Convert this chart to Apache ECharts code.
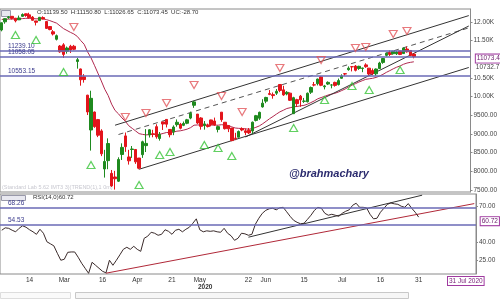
<!DOCTYPE html>
<html><head><meta charset="utf-8">
<script src="https://cdn.jsdelivr.net/npm/echarts@6/dist/echarts.min.js"></script>
<style>html,body{margin:0;padding:0;background:#fff}#c{width:500px;height:300px}</style>
</head><body><div id="c"></div>
<script>
const dates = ['02-04','02-05','02-06','02-07','02-10','02-11','02-12','02-13','02-14','02-17','02-18','02-19','02-20','02-24','02-25','02-26','02-27','02-28',
'03-02','03-03','03-04','03-05','03-06','03-09','03-11','03-12','03-13','03-16','03-17','03-18','03-19','03-20','03-23','03-24','03-25','03-26','03-27','03-30','03-31',
'04-01','04-03','04-07','04-08','04-09','04-13','04-15','04-16','04-17','04-20','04-21','04-22','04-23','04-24','04-27','04-28','04-29','04-30',
'05-04','05-05','05-06','05-07','05-08','05-11','05-12','05-13','05-14','05-15','05-18','05-19','05-20','05-21','05-22','05-26','05-27','05-28','05-29',
'06-01','06-02','06-03','06-04','06-05','06-08','06-09','06-10','06-11','06-12','06-15','06-16','06-17','06-18','06-19','06-22','06-23','06-24','06-25','06-26','06-29','06-30',
'07-01','07-02','07-03','07-06','07-07','07-08','07-09','07-10','07-13','07-14','07-15','07-16','07-17','07-20','07-21','07-22','07-23','07-24','07-27','07-28','07-29','07-30','07-31'];
const futureSlots = ['f1','f2','f3','f4','f5','f6','f7','f8','f9','f10','f11','f12','f13','f14','f15','f16'];

const opens = [11786,12005,12120,12152,12102,12058,12151,12219,12191,12131,12029,12037,12119,12012,11878,11738,11537,11355,
11388,11217,11350,11350,10942,10742,10531,10040,9107,9588,9385,9082,8063,8286,7945,7848,7735,8451,8949,8385,8584,
8585,8356,8446,8688,8974,9004,9196,8880,9323,9390,9122,9057,9251,9261,9232,9287,9426,9769,
9533,9429,9226,9234,9376,9348,9123,9585,9314,9224,9158,8891,8914,9142,9084,9100,9082,9364,9422,
9726,9880,10082,10054,10093,10326,10182,10073,10094,9544,9919,10014,9876,9863,10119,10318,10347,10529,10265,10337,10311,10382,
10324,10493,10615,10724,10803,10818,10755,10756,10851,10764,10701,10612,10752,10918,11106,11174,11150,11149,11225,11154,11276,11237,11139.5];
const highs = [11986,12098,12160,12160,12103,12172,12231,12225,12247,12160,12030,12134,12152,12012,11883,11783,11664,11384,
11433,11342,11388,11386,11036,10752,10604,10049,10159,9602,9403,9127,8575,8883,8036,8013,8376,8749,9039,8576,8678,
8588,8356,8820,9131,9128,9112,9261,9053,9323,9390,9123,9231,9390,9297,9334,9404,9599,9889,
9533,9450,9346,9277,9383,9439,9224,9585,9314,9238,9158,9031,9094,9178,9149,9160,9334,9511,9599,
9931,9996,10177,10112,10203,10328,10291,10148,10112,9996,9943,10046,9966,10111,10272,10393,10484,10554,10315,10409,10337,10401,
10485,10599,10631,10811,10814,10847,10827,10773,10894,10769,10755,10755,10934,11037,11179,11240,11226,11225,11226,11313,11342,11245,11150.8];
const lows = [11750,11953,12084,12066,11990,12055,12145,12139,12091,12037,11908,12037,12071,11813,11779,11639,11506,11175,
11036,11152,11171,11244,10750,10294,10375,9508,8555,9166,8916,8407,7832,8056,7583,7511,7714,8304,8522,8180,8360,
8199,8055,8360,8517,8905,8912,8874,8822,9108,9175,8910,8968,9196,9124,9210,9262,9395,9700,
9266,9116,9116,9175,9204,9219,9043,9325,9120,9051,8807,8834,8909,9074,8969,8996,9004,9336,9377,
9706,9824,10040,9945,10046,10120,10022,10036,9885,9544,9726,9728,9833,9845,10072,10277,10301,10281,10194,10311,10223,10268,
10299,10485,10562,10695,10676,10676,10718,10656,10773,10555,10577,10562,10749,10880,11075,11089,11125,11116,11113,11151,11180,11084,11026.65];
const closes = [11979,12089,12137,12098,12031,12108,12201,12174,12113,12046,11993,12126,12080,11829,11797,11678,11633,11202,
11132,11303,11251,11270,10989,10451,10458,9590,9955,9197,8967,8469,8263,8745,7610,7801,8318,8641,8660,8281,8598,
8253,8084,8792,8748,9112,8994,8925,8992,9267,9262,8981,9187,9314,9154,9282,9380,9553,9860,
9294,9205,9270,9199,9251,9240,9197,9383,9142,9137,8823,8879,9067,9106,9039,9029,9315,9490,9580,
9826,9979,10061,10029,10142,10167,10047,10116,9902,9972,9813,9914,9881,10091,10244,10311,10471,10305,10288,10383,10312,10302,
10430,10552,10607,10763,10799,10706,10813,10768,10802,10607,10618,10740,10901,11022,11162,11132,11215,11194,11131,11300,11202,11102,11073.45];

const maRed = [12070,12072,12078,12080,12075,12078,12090,12098,12099,12094,12084,12088,12087,12063,12037,12003,11968,11895,
11822,11773,11723,11680,11614,11503,11404,11200,11040,10840,10630,10420,10200,10030,9800,9630,9540,9430,9340,9220,9150,
9080,9010,8990,8975,8985,8990,8985,8990,9015,9040,9035,9050,9075,9085,9105,9130,9170,9235,
9242,9239,9242,9238,9239,9239,9235,9249,9239,9229,9190,9160,9151,9147,9137,9127,9145,9178,9216,
9274,9341,9410,9469,9533,9593,9636,9682,9703,9729,9737,9754,9766,9797,9840,9885,9941,9976,10006,10042,10068,10090,
10122,10163,10205,10258,10310,10348,10392,10428,10464,10478,10491,10515,10552,10597,10651,10697,10746,10789,10822,10868,10900,10919,10934];

const rsi = [49.8,51.8,51.4,49.8,48.5,51.4,53.5,52.3,50.2,48.5,46.4,50.6,47.3,40.2,38.5,36.8,30.6,24.8,
25.6,31.4,31.7,31.7,27.3,22.3,18.1,13.9,23.1,20.6,18.1,15.6,14.3,24.8,20.6,24.8,29.3,33.9,35.6,33.9,36.4,
33.9,32.2,43.1,44.8,48.1,47.3,45.6,46.4,50.2,48.9,46.4,49.8,50.6,48.5,50.6,52.3,55.6,59.3,
50.2,48.5,49.3,48.9,49.3,48.5,48.1,51.4,47.3,45.2,41.4,43.1,47.3,46.8,45.6,46.4,54.8,59.8,63.9,
66.4,67.7,68.1,66.8,68.5,68.9,65.2,61.4,58.1,56.4,55.2,55.6,58.9,62.3,66.4,68.9,68.1,63.9,62.3,63.1,62.3,61.4,
63.9,65.6,66.8,70.6,72.3,68.9,68.9,68.5,63.1,59.3,59.8,64.8,68.1,71.4,72.5,71.8,71.4,69.8,68.9,72.0,68.1,64.8,60.72];

const priceLevels = [11239.10, 11058.05, 10553.15];
const rsiLevels = [68.26, 54.53];
const priceTicks = [7500,8000,8500,9000,9500,10000,10500,11500,12000];
const rsiTicks = [25,40,70];
const tickLabels = {'02-14':'14','03-02':'Mar','03-18':'16','04-01':'Apr','04-21':'21','05-04':'May','05-22':'22','06-01':'Jun','06-16':'15','07-01':'Jul','07-16':'16','07-31':'31'};

const upFractals = [['02-10',11652],['02-18',11518],['03-02',10660],['03-13',8168],['04-03',7632],['04-16',8436],['04-21',8516],['05-06',8704],['05-12',8623],['05-18',8409],['06-12',9159],['06-25',9910],['07-07',10285],['07-14',10178],['07-27',10714]];
const downFractals = [['03-05',11866],['03-27',9454],['04-08',9561],['04-20',9829],['04-30',10312],['05-13',10017],['05-21',9588],['06-08',10767],['06-24',10982],['07-08',11303],['07-13',11330],['07-23',11678],['07-29',11759]];

// trend lines: [category index, value]
const channelUpper = [[33,9235],[136,12171]];
const channelMid = [[34,8986],[136,11842]];
const channelLower = [[40,8055],[136,10781]];
const supportSteep = [[71,8919],[136,11893]];
const rsiTrendRed = [[30,14],[136,72]];
const rsiTrendBlack = [[71,44],[121,79]];

const lastClose = 11073.4, lastRsi = 60.72, otherLast = 10732.7;
const header = {O:'11139.50',H:'11150.80',L:'11026.65',C:'11073.45',UC:'-28.70'};

const cats = dates.concat(futureSlots);
const candles = dates.map((d,i)=>[opens[i],closes[i],lows[i],highs[i]]);
const lastDate = dates[dates.length-1];

const fmtPrice = v => v >= 10000 ? (v/1000).toFixed(2)+'K' : v.toFixed(2);
const axisFont = {fontSize:6.5, color:'#444', fontFamily:'Liberation Sans'};

function trendSeries(data, grid, color, dashed){
  return {type:'line', xAxisIndex:grid, yAxisIndex:grid, data:data, symbol:'none', silent:true,
    lineStyle:{color:color, width:1, type: dashed ? [5,4] : 'solid'}, z:3};
}

const chart = echarts.init(document.getElementById('c'), null, {renderer:'canvas'});
chart.setOption({
  animation:false,
  grid:[{left:0,right:24,top:9,height:183,show:true,borderColor:'#8a8a8a',borderWidth:1},
        {left:0,right:24,top:194,height:80,show:true,borderColor:'#8a8a8a',borderWidth:1}],
  xAxis:[
    {type:'category',gridIndex:0,data:cats,axisLine:{show:false},axisTick:{show:false},axisLabel:{show:false},splitLine:{show:false}},
    {type:'category',gridIndex:1,data:cats,axisLine:{show:false},axisTick:{show:false},splitLine:{show:false},
     axisLabel:{show:true,interval:(idx,val)=>tickLabels.hasOwnProperty(val),formatter:v=>tickLabels[v]||'',fontSize:6.5,color:'#333',margin:3,fontFamily:'Liberation Sans'}}
  ],
  yAxis:[
    {type:'value',gridIndex:0,position:'right',min:7446,max:12348,scale:true,
     axisLine:{show:true,lineStyle:{color:'#8a8a8a'}},axisTick:{show:true,length:2,customValues:priceTicks,lineStyle:{color:'#8a8a8a'}},
     axisLabel:Object.assign({customValues:priceTicks,formatter:fmtPrice,margin:3},axisFont),splitLine:{show:false}},
    {type:'value',gridIndex:1,position:'right',min:13.33,max:80,
     axisLine:{show:true,lineStyle:{color:'#8a8a8a'}},axisTick:{show:true,length:2,customValues:rsiTicks,lineStyle:{color:'#8a8a8a'}},
     axisLabel:Object.assign({customValues:rsiTicks,formatter:v=>v.toFixed(2),margin:3},axisFont),splitLine:{show:false}}
  ],
  series:[
    {type:'candlestick',xAxisIndex:0,yAxisIndex:0,data:candles,barWidth:3,z:4,
     itemStyle:{color:'#1f8a1f',color0:'#e3141b',borderColor:'#1f8a1f',borderColor0:'#e3141b',borderWidth:1},
     markLine:{silent:true,symbol:'none',animation:false,
       lineStyle:{color:'#6a6ab6',width:1.5,type:'solid'},
       label:{position:'insideStartTop',formatter:p=>p.value.toFixed(2),fontSize:6.5,color:'#3a3a8c',distance:[8,1],fontFamily:'Liberation Sans'},
       data:priceLevels.map(v=>({yAxis:v}))},
     markPoint:{silent:true,symbol:'rect',symbolSize:0,animation:false,
       data:[
        {coord:[lastDate,lastClose],label:{show:true,position:'right',offset:[57,2],formatter:String(lastClose),fontSize:6.5,color:'#6a1a6a',backgroundColor:'#fff',borderColor:'#a03aa0',borderWidth:1,padding:[1,1,0,1],fontFamily:'Liberation Sans'}},
        {coord:[lastDate,otherLast],label:{show:true,position:'right',offset:[57,-2],formatter:String(otherLast),fontSize:6.5,color:'#444',fontFamily:'Liberation Sans'}}
       ]}
    },
    {type:'line',xAxisIndex:0,yAxisIndex:0,data:maRed,symbol:'none',silent:true,lineStyle:{color:'#b0284e',width:1},z:3},
    trendSeries(channelUpper,0,'#333',false),
    trendSeries(channelMid,0,'#555',true),
    trendSeries(channelLower,0,'#333',false),
    trendSeries(supportSteep,0,'#333',false),
    {type:'scatter',xAxisIndex:0,yAxisIndex:0,data:upFractals,symbol:'triangle',symbolSize:[8,7],silent:true,z:5,
     itemStyle:{color:'rgba(255,255,255,0)',borderColor:'#39c439',borderWidth:1.2}},
    {type:'scatter',xAxisIndex:0,yAxisIndex:0,data:downFractals,symbol:'triangle',symbolRotate:180,symbolSize:[8,7],silent:true,z:5,
     itemStyle:{color:'rgba(255,255,255,0)',borderColor:'#e2585c',borderWidth:1.2}},
    {type:'line',xAxisIndex:1,yAxisIndex:1,data:rsi,symbol:'none',silent:true,lineStyle:{color:'#3a2a2a',width:1},z:4,
     markLine:{silent:true,symbol:'none',animation:false,
       lineStyle:{color:'#6a6ab6',width:1.5,type:'solid'},
       label:{position:'insideStartTop',formatter:p=>p.value.toFixed(2),fontSize:6.5,color:'#3a3a8c',distance:[8,1],fontFamily:'Liberation Sans'},
       data:rsiLevels.map(v=>({yAxis:v}))},
     markPoint:{silent:true,symbol:'rect',symbolSize:0,animation:false,
       data:[{coord:[lastDate,lastRsi],label:{show:true,position:'right',offset:[57,4],formatter:lastRsi.toFixed(2),fontSize:6.5,color:'#6a1a6a',backgroundColor:'#fff',borderColor:'#a03aa0',borderWidth:1,padding:[1,1,0,1],fontFamily:'Liberation Sans'}}]}
    },
    trendSeries(rsiTrendRed,1,'#b02838',false),
    trendSeries(rsiTrendBlack,1,'#333',false)
  ],
  graphic:[
    {type:'text',left:37,top:9.5,style:{text:'O:'+header.O+'  H:'+header.H+'  L:'+header.L+'  C:'+header.C+'  UC:'+header.UC,fontSize:6,fill:'#333',fontFamily:'Liberation Sans'}},
    {type:'rect',left:1,top:10,shape:{width:9,height:6},style:{fill:'#e8e8f0',stroke:'#99a'}},
    {type:'text',left:2,top:184,style:{text:'(Standard Lab 5.62 IMT3 3)(TREND(1),1 0m)',fontSize:5.5,fill:'#c8c8d0',fontFamily:'Liberation Sans'}},
    {type:'text',left:289,top:168,style:{text:'@brahmachary',fontSize:11,fontWeight:'bold',fontStyle:'italic',fill:'#2b2b6e',fontFamily:'Liberation Sans'}},
    {type:'rect',left:1,top:195,shape:{width:24,height:5},style:{fill:'#e8e8f0',stroke:'#99a'}},
    {type:'text',left:33,top:194,style:{text:'RSI(14,0)'+lastRsi.toFixed(2),fontSize:6,fill:'#333',fontFamily:'Liberation Sans'}},
    {type:'text',left:198,top:284,style:{text:'2020',fontSize:6.5,fill:'#333',fontWeight:'bold',fontFamily:'Liberation Sans'}},
    {type:'text',left:447,top:276,style:{text:'31 Jul 2020',fontSize:6.5,fill:'#7a207a',backgroundColor:'#fff',borderColor:'#a03aa0',borderWidth:1,padding:[1,1,0,1],fontFamily:'Liberation Sans'}},
    {type:'rect',left:75,top:292,shape:{width:333,height:6},style:{fill:'#f6f6f6',stroke:'#c8c8c8'}},
    {type:'rect',left:0,top:292,shape:{width:70,height:6},style:{fill:'#fafafa',stroke:'#ddd'}}
  ]
});
</script></body></html>
